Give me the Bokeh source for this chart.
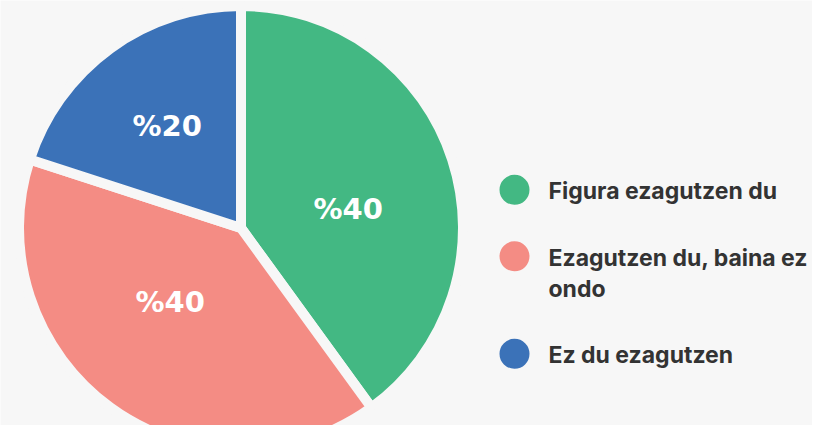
import math
from bokeh.plotting import figure
from bokeh.models import Range1d, ColumnDataSource
from bokeh.core.properties import value
from bokeh.embed import file_html
from bokeh.resources import INLINE

# ---- data ----
categories = ["Figura ezagutzen du", "Ezagutzen du, baina ez\nondo", "Ez du ezagutzen"]
shares = [40, 40, 20]
pct_labels = ["%40", "%40", "%20"]
colors = ["#43B883", "#F48C84", "#3B72B8"]

# ---- style / layout ----
BG = "#F7F7F7"
W, H = 812, 425
cx, cy = 240.5, H - 227.5      # pie centre (px, y up)
R_VIS = 217.0                  # visible radius
GAP = 10                       # gap between slices
label_r = 0.5 * R_VIS
label_nudge = [(4, -15), (-7, 14), (-10, 14)]

p = figure(width=W, height=H, output_backend="svg", toolbar_location=None,
           x_range=Range1d(0, W), y_range=Range1d(0, H), min_border=0)
p.axis.visible = False
p.grid.visible = False
p.outline_line_color = None
p.background_fill_color = BG
p.border_fill_color = BG

total = sum(shares)
starts, ends, lx, ly = [], [], [], []
cum = 0.0
for i, s in enumerate(shares):
    a0 = math.pi / 2 - 2 * math.pi * cum / total
    cum += s
    a1 = math.pi / 2 - 2 * math.pi * cum / total
    starts.append(a0)
    ends.append(a1)
    mid = (a0 + a1) / 2
    lx.append(cx + label_r * math.cos(mid) + label_nudge[i][0])
    ly.append(cy + label_r * math.sin(mid) + label_nudge[i][1])

src = ColumnDataSource(dict(start=starts, end=ends, color=colors))
p.wedge(x=cx, y=cy, radius=R_VIS + GAP / 2, start_angle="start", end_angle="end",
        direction="clock", fill_color="color", line_color=BG, line_width=GAP,
        source=src)

p.text(x=lx, y=ly, text=pct_labels, text_color="white",
       text_font=value("DejaVu Sans"), text_font_style="bold",
       text_font_size="29px", text_align="center", text_baseline="middle")

# ---- legend ----
leg_x = 514.0
leg_tx = 548.0
leg_y0 = H - 189.3
item_pitch = 66.5
line_pitch = 31.0
cxs, cys, tx, ty, tt = [], [], [], [], []
y = leg_y0
for i, lab in enumerate(categories):
    lines = lab.split("\n")
    cxs.append(leg_x)
    cys.append(y)
    for j, ln in enumerate(lines):
        tx.append(leg_tx)
        ty.append(y - 1.5 - j * line_pitch)
        tt.append(ln)
    y -= item_pitch + line_pitch * (len(lines) - 1)

p.scatter(x=cxs, y=cys, size=30, marker="circle", fill_color=colors, line_color=None)
p.text(x=tx, y=ty, text=tt, text_color="#333333", text_font=value("Inter"),
       text_font_style="bold", text_font_size="23px", text_align="left",
       text_baseline="alphabetic")

html = file_html(p, INLINE)
html = html.replace("<body>", '<body style="background-color:#F7F7F7;">', 1)
open("out.html", "w").write(html)
